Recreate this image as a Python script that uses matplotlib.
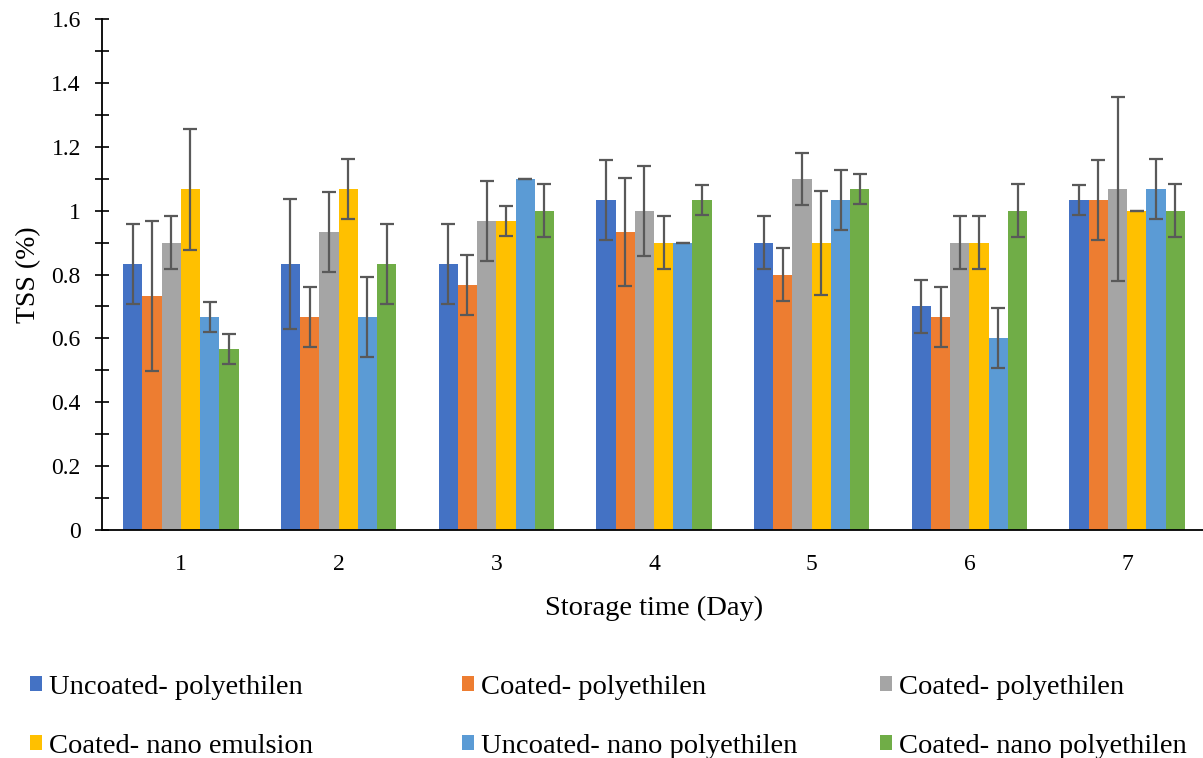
import numpy as np
import matplotlib
matplotlib.use("Agg")
import matplotlib.pyplot as plt
from matplotlib.ticker import MultipleLocator, FuncFormatter

plt.rcParams["font.family"] = ["Liberation Serif", "DejaVu Serif"]

# Data
days = ["1", "2", "3", "4", "5", "6", "7"]
series_names = [
    "Uncoated- polyethilen",
    "Coated- polyethilen",
    "Coated- polyethilen",
    "Coated- nano emulsion",
    "Uncoated- nano polyethilen",
    "Coated- nano polyethilen",
]
uncoated_pe = [0.833, 0.833, 0.833, 1.033, 0.900, 0.700, 1.033]
coated_pe = [0.733, 0.667, 0.767, 0.933, 0.800, 0.667, 1.033]
coated_pe2 = [0.900, 0.933, 0.967, 1.000, 1.100, 0.900, 1.067]
coated_nano_em = [1.067, 1.067, 0.967, 0.900, 0.900, 0.900, 1.000]
uncoated_nano_pe = [0.667, 0.667, 1.100, 0.900, 1.033, 0.600, 1.067]
coated_nano_pe = [0.567, 0.833, 1.000, 1.033, 1.067, 1.000, 1.000]

err_uncoated_pe = [0.126, 0.205, 0.126, 0.126, 0.082, 0.082, 0.047]
err_coated_pe = [0.235, 0.094, 0.094, 0.170, 0.082, 0.094, 0.126]
err_coated_pe2 = [0.082, 0.126, 0.126, 0.141, 0.082, 0.082, 0.288]
err_coated_nano_em = [0.189, 0.094, 0.047, 0.082, 0.163, 0.082, 0.0]
err_uncoated_nano_pe = [0.047, 0.126, 0.0, 0.0, 0.094, 0.094, 0.094]
err_coated_nano_pe = [0.047, 0.126, 0.082, 0.047, 0.047, 0.082, 0.082]

values = [uncoated_pe, coated_pe, coated_pe2, coated_nano_em, uncoated_nano_pe, coated_nano_pe]
errors = [err_uncoated_pe, err_coated_pe, err_coated_pe2, err_coated_nano_em,
          err_uncoated_nano_pe, err_coated_nano_pe]
colors = ["#4472C4", "#ED7D31", "#A5A5A5", "#FFC000", "#5B9BD5", "#70AD47"]

fig = plt.figure(figsize=(12.03, 7.58), dpi=100)
ax = fig.add_axes([0.0848, 0.3008, 0.9177, 0.6741])

x = np.arange(len(days))
n = len(values)
width = 0.122
handles = []
for i, (vals, errs, col, name) in enumerate(zip(values, errors, colors, series_names)):
    pos = x + (i - (n - 1) / 2) * width
    b = ax.bar(pos, vals, width, color=col, label=name,
               yerr=errs, capsize=4.7,
               error_kw=dict(ecolor="#595959", elinewidth=1.6, capthick=1.6))
    handles.append(b)

ax.set_xlim(-0.5, len(days) - 0.5)
ax.set_ylim(0, 1.6)
ax.set_xticks(x)
ax.set_xticklabels(days)
ax.yaxis.set_major_locator(MultipleLocator(0.2))
ax.yaxis.set_minor_locator(MultipleLocator(0.1))
ax.yaxis.set_major_formatter(FuncFormatter(lambda v, p: f"{v:g}"))
ax.tick_params(axis="y", which="both", direction="inout", length=10.5, width=1.2,
               labelsize=17, pad=10)
ax.tick_params(axis="x", length=0, labelsize=17, pad=17)

for side in ["top", "right"]:
    ax.spines[side].set_visible(False)
ax.spines["left"].set_linewidth(1.3)
ax.spines["bottom"].set_linewidth(1.3)

ax.set_xlabel("Storage time (Day)", fontsize=20.5, labelpad=15.5)
ax.set_ylabel("TSS (%)", fontsize=20, labelpad=7)

# Legend: three equal-width columns, two rows
col_x = [30, 462, 880]
for c in range(3):
    fig.legend([handles[c], handles[c + 3]], [series_names[c], series_names[c + 3]],
               loc="upper left", bbox_to_anchor=(col_x[c] / 1203, 1 - 675 / 758),
               frameon=False, fontsize=20.5, handlelength=0.42, handleheight=0.42,
               handletextpad=0.25, labelspacing=1.18, borderpad=0, borderaxespad=0)

fig.savefig("out.png", dpi=100)
